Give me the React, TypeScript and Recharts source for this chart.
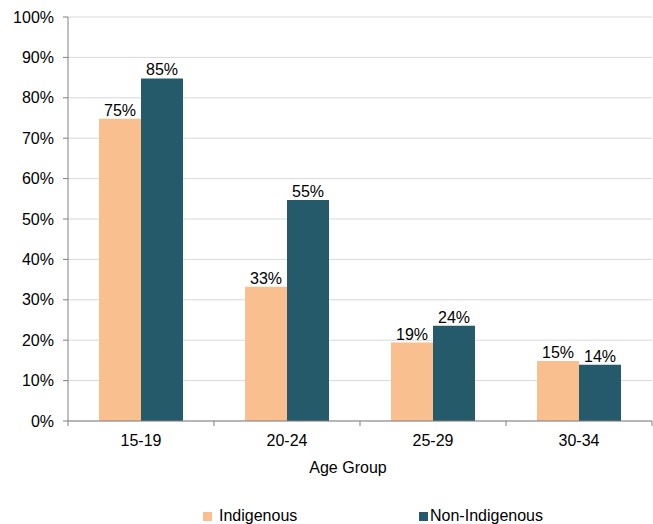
import React from 'react';
import { BarChart, Bar, XAxis, YAxis, CartesianGrid, Legend, LabelList } from 'recharts';

const ageGroups = ['15-19', '20-24', '25-29', '30-34'];
const indigenous = [74.8, 33.2, 19.4, 14.85];
const nonIndigenous = [84.8, 54.7, 23.6, 13.9];
const yTicks = [0, 10, 20, 30, 40, 50, 60, 70, 80, 90, 100];

const data = ageGroups.map((g, i) => ({
  group: g,
  indigenous: indigenous[i],
  nonIndigenous: nonIndigenous[i],
}));

const FONT = 'Liberation Sans, Arial, sans-serif';
const FS = 16;
const PLOT_LEFT = 68;
const PLOT_RIGHT = 652;
const BAND = (PLOT_RIGHT - PLOT_LEFT) / ageGroups.length;

const XTick = (props: any) => {
  const { x, y, payload, index } = props;
  const left = x - BAND / 2;
  return (
    <g>
      <line x1={left} x2={left} y1={y - 8} y2={y - 3} stroke="#808080" />
      {index === ageGroups.length - 1 && (
        <line x1={left + BAND} x2={left + BAND} y1={y - 8} y2={y - 3} stroke="#808080" />
      )}
      <text x={x} y={y + 17} textAnchor="middle" fontSize={FS} fontFamily={FONT} fill="#000">
        {payload.value}
      </text>
    </g>
  );
};

const LegendContent = (props: any) => {
  const { payload } = props;
  const starts = [203, 419];
  const gaps = [7, 2];
  return (
    <div style={{ position: 'relative', height: 20, fontFamily: FONT, fontSize: FS }}>
      {payload.map((p: any, i: number) => (
        <div key={p.value} style={{ position: 'absolute', left: starts[i], top: 0, display: 'flex', alignItems: 'center' }}>
          <span style={{ width: 9, height: 9, background: p.color, display: 'inline-block', marginRight: gaps[i] }} />
          <span style={{ color: '#000', whiteSpace: 'nowrap' }}>{p.value}</span>
        </div>
      ))}
    </div>
  );
};

const App = () => {
  return (
    <div style={{ position: 'absolute', left: 0, top: 0 }}>
      <BarChart
        width={653}
        height={524}
        data={data}
        margin={{ top: 17, right: 1, bottom: 23, left: 0 }}
        barGap={0}
      >
        <CartesianGrid vertical={false} stroke="#D9D9D9" />
        <XAxis
          dataKey="group"
          height={60}
          axisLine={{ stroke: '#808080' }}
          tickLine={false}
          tick={<XTick />}
          label={{ value: 'Age Group', position: 'insideBottom', offset: 8, dx: -12, fontSize: FS, fontFamily: FONT, fill: '#000' }}
        />
        <YAxis
          width={68}
          domain={[0, 100]}
          ticks={yTicks}
          tickFormatter={(v: number) => `${v}%`}
          axisLine={{ stroke: '#808080' }}
          tickLine={{ stroke: '#808080' }}
          tickSize={5}
          tickMargin={9}
          tick={{ fontSize: FS, fontFamily: FONT, fill: '#000' }}
          interval={0}
        />
        <Legend
          content={<LegendContent />}
          wrapperStyle={{ position: 'absolute', left: 0, top: 507, width: 653 }}
        />
        <Bar dataKey="indigenous" name="Indigenous" fill="#F9BF8F" barSize={42} isAnimationActive={false}>
          <LabelList
            dataKey="indigenous"
            position="top"
            offset={3}
            formatter={(v: any) => `${Math.round(v)}%`}
            style={{ fontSize: FS, fontFamily: FONT, fill: '#000' }}
          />
        </Bar>
        <Bar dataKey="nonIndigenous" name="Non-Indigenous" fill="#245A69" barSize={42} isAnimationActive={false}>
          <LabelList
            dataKey="nonIndigenous"
            position="top"
            offset={3}
            formatter={(v: any) => `${Math.round(v)}%`}
            style={{ fontSize: FS, fontFamily: FONT, fill: '#000' }}
          />
        </Bar>
      </BarChart>
    </div>
  );
};

export default App;
